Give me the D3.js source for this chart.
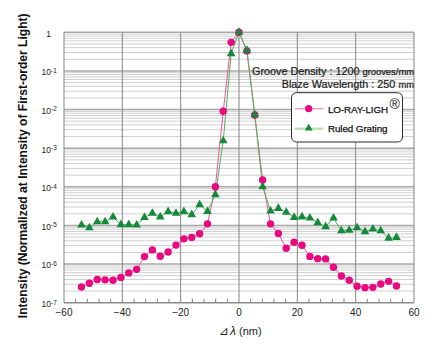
<!DOCTYPE html>
<html><head><meta charset="utf-8">
<script src="https://cdn.jsdelivr.net/npm/d3@7"></script>
<style>html,body{margin:0;padding:0;background:#fff;}svg{display:block;}</style>
</head><body>
<svg id="c" width="437" height="349"></svg>
<script>
const lambda = [-54,-51.3,-48.6,-45.9,-43.2,-40.5,-37.8,-35.1,-32.4,-29.7,-27,-24.3,-21.6,-18.9,-16.2,-13.5,-10.8,-8.1,-5.4,-2.7,0,2.7,5.4,8.1,10.8,13.5,16.2,18.9,21.6,24.3,27,29.7,32.4,35.1,37.8,40.5,43.2,45.9,48.6,51.3,54];
const loRayLigh = [2.55e-7,3.2e-7,4.0e-7,3.9e-7,3.8e-7,4.5e-7,5.9e-7,7.3e-7,1.56e-6,2.33e-6,1.6e-6,2.05e-6,3.1e-6,4.5e-6,4.9e-6,6.1e-6,1.1e-5,1.0e-4,9.0e-3,0.55,1,0.33,7.2e-3,1.5e-4,1.1e-5,6.2e-6,2.56e-6,3.66e-6,3.06e-6,1.58e-6,1.38e-6,1.36e-6,8.3e-7,4.9e-7,3.8e-7,2.66e-7,2.45e-7,2.5e-7,3.05e-7,3.57e-7,2.7e-7];
const ruled = [1.03e-5,8.7e-6,1.25e-5,1.25e-5,1.65e-5,1.05e-5,1.05e-5,1.03e-5,1.62e-5,2.06e-5,1.66e-5,2.27e-5,2.06e-5,2.27e-5,1.9e-5,3.45e-5,2.3e-5,6.2e-5,1.56e-3,0.28,1,0.34,7.4e-3,1.0e-4,2.37e-5,2.77e-5,2.19e-5,1.62e-5,1.66e-5,1.56e-5,1.18e-5,9.3e-6,1.55e-5,7.3e-6,7.5e-6,8.7e-6,6.9e-6,8.1e-6,7.3e-6,4.7e-6,4.9e-6];
const xTicks = [-60,-40,-20,0,20,40,60];
const xTickLabels = ["\u221260","\u221240","\u221220","0","20","40","60"];
const yExponents = [0,-1,-2,-3,-4,-5,-6,-7];
const seriesNames = ["LO-RAY-LIGH","Ruled Grating"];

const svg = d3.select("#c");
const L=64, R=414, T=32.3, B=302.7;
const x = d3.scaleLinear([-60,60],[L,R]);
const y = d3.scaleLog([1e-7,1],[B,T]);
const font = "'Liberation Sans', Arial, Helvetica, sans-serif";

const grid = svg.append("g");
const minorY = [];
for (let e=-7;e<0;e++) for (let k=2;k<=9;k++) minorY.push(k*Math.pow(10,e));
grid.selectAll("line.mh").data(minorY).join("line")
  .attr("x1",L).attr("x2",R).attr("y1",d=>y(d)).attr("y2",d=>y(d))
  .attr("stroke","#cfcfcf").attr("stroke-width",1);
grid.selectAll("line.Mh").data(yExponents).join("line")
  .attr("x1",L).attr("x2",R).attr("y1",d=>y(Math.pow(10,d))).attr("y2",d=>y(Math.pow(10,d)))
  .attr("stroke","#a8a8a8").attr("stroke-width",1.4);
grid.selectAll("line.v").data(xTicks).join("line")
  .attr("x1",d=>x(d)).attr("x2",d=>x(d)).attr("y1",T).attr("y2",B)
  .attr("stroke","#858585").attr("stroke-width",1);
grid.append("line").attr("x1",L).attr("x2",R).attr("y1",B).attr("y2",B).attr("stroke","#858585");
const minorX = d3.range(-60,61,4).filter(v=>v%20!==0);
grid.selectAll("line.mt").data(minorX).join("line")
  .attr("x1",d=>x(d)).attr("x2",d=>x(d)).attr("y1",B).attr("y2",B-4)
  .attr("stroke","#858585");

svg.append("g").selectAll("text").data(xTicks).join("text")
  .attr("x",d=>x(d)).attr("y",316).attr("text-anchor","middle")
  .attr("font-family",font).attr("font-size",10).attr("fill","#222")
  .text((d,i)=>xTickLabels[i]);

const yl = svg.append("g").attr("font-family",font).attr("fill","#222");
yExponents.forEach(e=>{
  const yy = y(Math.pow(10,e));
  if (e===0) {
    yl.append("text").attr("x",51).attr("y",yy+4.6).attr("text-anchor","end").attr("font-size",8.6).text("1");
  } else {
    yl.append("text").attr("x",51).attr("y",yy+4.4).attr("text-anchor","end").attr("font-size",8.5).text("10");
    yl.append("text").attr("x",51).attr("y",yy+1.8).attr("text-anchor","start").attr("font-size",6.4).text("-"+(-e));
  }
});

const yTitle = svg.append("text")
  .attr("text-anchor","middle").attr("font-family","'Liberation Sans Narrow', 'Liberation Sans', Arial, sans-serif")
  .attr("font-weight","bold").attr("font-size",13).attr("fill","#111")
  .text("Intensity (Normalized at Intensity of First-order Light)");
const natLen = yTitle.node().getComputedTextLength() || 305;
const sx = 305 / natLen;
yTitle.attr("transform",`translate(26.5,165.8) rotate(-90) scale(${sx},1)`);

const xt = svg.append("text").attr("x",219).attr("y",334.5).attr("font-family",font).attr("fill","#222");
xt.append("tspan").attr("font-style","italic").attr("font-size",12).attr("font-family","'DejaVu Sans', sans-serif").text("\u22BF");
xt.append("tspan").attr("font-style","italic").attr("font-size",12).attr("dx",1).text("\u03BB");
xt.append("tspan").attr("font-size",11).text(" (nm)");

const pts1 = lambda.map((l,i)=>[l,loRayLigh[i]]);
const pts2 = lambda.map((l,i)=>[l,ruled[i]]);
const line = d3.line().x(d=>x(d[0])).y(d=>y(d[1]));
const pinkLine="#f2509e", pinkMark="#e8087f", greenLine="#4fb35a", greenMark="#15893a";
svg.append("path").attr("d",line(pts1)).attr("fill","none").attr("stroke",pinkLine).attr("stroke-width",1);
svg.append("path").attr("d",line(pts2)).attr("fill","none").attr("stroke",greenLine).attr("stroke-width",1);
svg.append("g").selectAll("circle").data(pts1).join("circle")
  .attr("cx",d=>x(d[0])).attr("cy",d=>y(d[1])).attr("r",3.7).attr("fill",pinkMark);
const tri = (w,h)=>`M0,${-h*2/3}L${w/2},${h/3}L${-w/2},${h/3}Z`;
svg.append("g").selectAll("path").data(pts2).join("path")
  .attr("transform",d=>`translate(${x(d[0])},${y(d[1])})`).attr("d",tri(8.6,7.6)).attr("fill",greenMark);

const a1 = svg.append("text").attr("x",414).attr("y",74.5).attr("text-anchor","end").attr("font-family",font).attr("fill","#1a1a1a").attr("stroke","#1a1a1a").attr("stroke-width",0.2);
a1.append("tspan").attr("font-size",10.8).text("Groove Density : 1200 ");
a1.append("tspan").attr("font-size",9.4).text("grooves/mm");
const a2 = svg.append("text").attr("x",414).attr("y",87.5).attr("text-anchor","end").attr("font-family",font).attr("fill","#1a1a1a").attr("stroke","#1a1a1a").attr("stroke-width",0.2);
a2.append("tspan").attr("font-size",10.8).text("Blaze Wavelength : 250 ");
a2.append("tspan").attr("font-size",9.4).text("mm");

const lg = svg.append("g");
lg.append("rect").attr("x",291.5).attr("y",92.7).attr("width",111).attr("height",49.3).attr("rx",5)
  .attr("fill","#fff").attr("stroke","#2a2a2a").attr("stroke-width",1);
lg.append("line").attr("x1",295).attr("x2",323.5).attr("y1",108.7).attr("y2",108.7).attr("stroke","#f78fc2").attr("stroke-width",1.3);
lg.append("circle").attr("cx",308.7).attr("cy",108.7).attr("r",3.6).attr("fill",pinkMark);
lg.append("line").attr("x1",295).attr("x2",323.5).attr("y1",128.7).attr("y2",128.7).attr("stroke","#b3e0aa").attr("stroke-width",2.2);
lg.append("path").attr("transform","translate(308.7,128.2)").attr("d",tri(8,6.6)).attr("fill",greenMark);
const t1 = lg.append("text").attr("x",328).attr("y",113).attr("font-family",font).attr("fill","#111").attr("stroke","#111").attr("stroke-width",0.25);
t1.append("tspan").attr("font-size",9.8).attr("textLength",60).text(seriesNames[0]);
t1.append("tspan").attr("font-size",14).attr("stroke-width",0).attr("dx",1.5).attr("dy",-4.5).text("\u00AE");
lg.append("text").attr("x",328).attr("y",132.3).attr("font-family",font).attr("font-size",9.8).attr("fill","#111")
  .attr("stroke","#111").attr("stroke-width",0.25)
  .attr("textLength",59.5).text(seriesNames[1]);
</script>
</body></html>
